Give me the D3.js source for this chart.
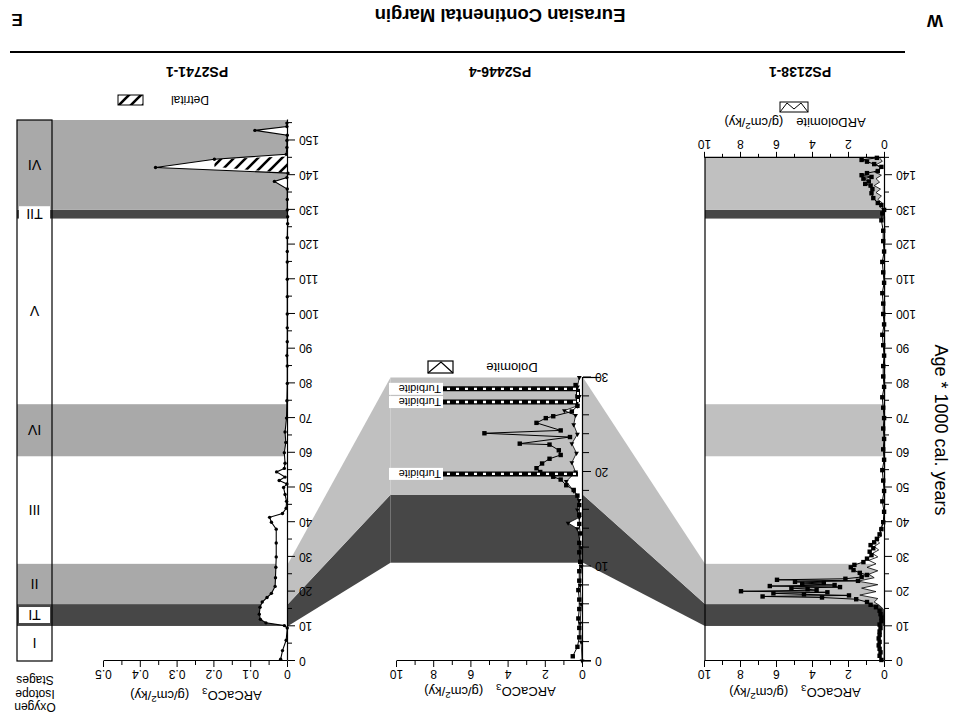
<!DOCTYPE html>
<html><head><meta charset="utf-8">
<script src="https://cdn.jsdelivr.net/npm/d3@7"></script>
<style>body{margin:0;background:#fff}svg{display:block}</style>
</head><body><svg id="c" width="967" height="721"></svg>
<script>
// ---------------- DATA ----------------
const stageNames = ["I","TI","II","III","IV","V","TII","VI"];
const stageStart = [0,10.1,16.4,28,59,74,127.5,130];
const stageEnd   = [10.1,16.4,28,59,74,127.5,130,155.9];
const stageShade = ["none","dark","light","none","light","none","dark","light"];
const p2BandStart = [10.4,17.6];
const p2BandEnd   = [17.6,30];
const p2BandShade = ["dark","light"];

const coreNames = ["PS2138-1","PS2446-4","PS2741-1"];
const ageTicks150 = [0,10,20,30,40,50,60,70,80,90,100,110,120,130,140,150];
const valTicks10 = [0,2,4,6,8,10];
const valTicks05 = [0,0.1,0.2,0.3,0.4,0.5];

// PS2138-1 CaCO3 and dolomite accumulation rates
const p1CarbAge = [0.3,1.5,2.5,3.5,4.5,5.5,6.5,7.5,8.5,9.5,10.5,11.5,12.5,13.5,14.5,15.5,16.2,17,17.8,18.3,18.6,18.9,19.2,19.5,19.8,20.1,20.4,20.7,21,21.3,21.6,21.9,22.2,22.5,22.8,23.1,23.4,23.7,24.2,24.8,25.4,26.2,27,27.7,28.5,29.5,30.5,31.5,32.5,33.4,34.2,35.2,36.5,38,40,43,46,49,52,55,58,61,64,67,70,73,76,79,82,85,88,91,94,97,100,103,106,109,112,115,118,121,124,127,129,130,131.4,132,133.4,134.8,136,137,137.5,138.2,139,139.5,140,140.6,141.2,142.4,143.2,143.9,144.4,145];
const p1CarbVal = [0.2,0.3,0.25,0.3,0.35,0.3,0.35,0.3,0.3,0.25,0.3,0.2,0.2,0.25,0.3,0.5,0.8,1.0,1.6,3.5,6.8,2.0,4.5,6.2,3.2,8.0,3.8,4.3,5.2,2.5,6.4,2.8,4.6,3.4,5.0,1.5,6.0,2.2,1.3,1.0,1.4,1.75,1.9,1.7,1.2,1.0,0.75,0.85,0.65,0.8,0.6,0.45,0.3,0.2,0.1,0.05,0.15,0.05,0.1,0.15,0.05,0.1,0.05,0.1,0.05,0.1,0.15,0.05,0.1,0.1,0.05,0.1,0.15,0.05,0.1,0.1,0.15,0.05,0.1,0.15,0.05,0.1,0.1,0.2,0.15,0.05,0.2,0.4,0.65,0.75,0.7,0.8,1.1,0.9,1.2,0.75,1.3,1.0,0.4,0.2,0.6,1.0,1.3,0.45];
const p1DolAge = [0,5,10,15,16,17,18,19,20,21,22,23,24,25,26,27,28,29,30,31,32,33,34,35,36,38,40,45,60,80,100,120,128,130,131,132,133,134,135,136,137,138,139,140,141,142,143,144,145];
const p1DolVal = [0.05,0.05,0.05,0.1,0.3,0.6,0.4,1.4,0.5,1.3,0.4,1.5,0.6,0.9,0.4,1.0,0.5,0.9,0.4,0.7,0.35,0.6,0.3,0.5,0.2,0.3,0.05,0.02,0.02,0.02,0.02,0.02,0.02,0.1,0.3,0.15,0.4,0.2,0.5,0.25,0.6,0.3,0.5,0.2,0.6,0.2,0.5,0.15,0.3];

// PS2446-4
const p2CarbAge = [0.5,1.5,2.5,3.5,4.5,5.5,6.5,7.5,8.5,9.5,10.5,11.5,12.5,13.5,14.5,15.5,16.5,17.5,18.1,18.6,19.2,19.5,20.0,20.4,20.9,21.4,21.8,22.3,22.9,23.0,23.7,24.1,24.4,25.2,25.7,25.9,26.4,27.0,28.0,29.2];
const p2CarbVal = [0.55,0.3,0.2,0.2,0.25,0.2,0.2,0.25,0.2,0.2,0.15,0.2,0.2,0.15,0.2,0.2,0.2,0.3,0.5,0.9,1.2,1.6,2.3,2.5,2.2,1.8,1.2,1.3,1.8,3.4,0.7,5.3,1.2,2.5,2.0,1.6,0.6,0.3,0.3,0.4];
const p2DolAge = [0,2,4,6,8,10,12,14,14.6,15.2,16,17,18,19,20,21,22,23,24,25,26,26.5,27,28,29,30];
const p2DolVal = [0.05,0.1,0.15,0.1,0.15,0.1,0.1,0.3,0.8,0.2,0.3,0.2,0.5,0.9,0.4,0.6,0.35,0.6,0.3,0.5,0.4,1.0,0.3,0.2,0.3,0.2];
const turbiditeAge = [19.8,27.4,28.8];

// PS2741-1
const p3CarbAge = [0.5,3,6,9.5,10.2,11,12,13.5,15.5,17,18.3,19.5,21.5,24,27,30,34,38,40,41.4,42.5,44,46,48,50,51,52,53,54.5,55.5,57,60,63,66,70,75,80,85,88,92,96,100,105,110,115,118,122,126,128,130,133,136,138.2,139.3,140.6,142.2,144.6,146,148,150,151.5,152.9,154,155];
const p3CarbVal = [0.02,0.015,0.005,0.002,0.01,0.06,0.075,0.078,0.076,0.07,0.057,0.045,0.035,0.034,0.033,0.032,0.032,0.032,0.045,0.05,0.015,0.005,0.004,0.008,0.012,0.003,0.024,0.008,0.031,0.01,0.008,0.01,0.006,0.008,0.004,0.003,0.002,0.002,0.003,0.002,0.002,0.002,0.002,0.002,0.002,0.002,0.002,0.001,0.001,0.002,0.002,0.002,0.037,0.003,0.0,0.36,0.2,0.005,0.003,0.003,0.002,0.09,0.003,0.003];
const p3DetAge = [140.6,142.4,144.6,145.4];
const p3DetVal = [0,0.2,0.2,0];

// ---------------- DRAW ----------------
const W=967,H=721;
const FONT='"Liberation Sans", Arial, Helvetica, sans-serif';
const LIGHT='#c0c0c0', DARK='#474747', LIGHT3='#a9a9a9';
const svg=d3.select('#c');
const defs=svg.append('defs');
const hatch=defs.append('pattern').attr('id','hatch').attr('patternUnits','userSpaceOnUse').attr('width',12).attr('height',12);
hatch.append('rect').attr('width',12).attr('height',12).attr('fill','#fff');
hatch.append('path').attr('d','M-3,3 L3,-3 M0,12 L12,0 M9,15 L15,9').attr('stroke','#000').attr('stroke-width',2.6);

const root=svg.append('g').attr('transform',`rotate(180 ${W/2} ${H/2})`).attr('font-family',FONT);

const age1=d3.scaleLinear().domain([0,145]).range([60,563.15]);
const age3=d3.scaleLinear().domain([0,155.9]).range([60,601]);
const age2=d3.scaleLinear().domain([0,30]).range([60,343.5]);
const v1=d3.scaleLinear().domain([0,10]).range([82,262]);
const v2=d3.scaleLinear().domain([0,10]).range([384,570]);
const v3=d3.scaleLinear().domain([0,0.5]).range([679,863]);

const shadeCol={light:LIGHT,dark:DARK};

stageStart.forEach((s,i)=>{
  if(stageShade[i]==='none'||s>=145) return;
  const e=Math.min(stageEnd[i],145);
  root.append('rect').attr('x',v1(0)).attr('width',v1(10)-v1(0))
    .attr('y',age1(s)).attr('height',age1(e)-age1(s)).attr('fill',shadeCol[stageShade[i]]);
});
stageStart.forEach((s,i)=>{
  if(stageShade[i]==='none') return;
  root.append('rect').attr('x',v3(0)).attr('width',950-v3(0))
    .attr('y',age3(s)).attr('height',age3(stageEnd[i])-age3(s))
    .attr('fill',stageShade[i]==='light'?LIGHT3:DARK);
});
const p2Left=v2(0), p2Right=v2(10.35);
p2BandStart.forEach((s,i)=>{
  root.append('rect').attr('x',p2Left).attr('width',p2Right-p2Left)
    .attr('y',age2(s)).attr('height',age2(p2BandEnd[i])-age2(s)).attr('fill',shadeCol[p2BandShade[i]]);
});
const poly=(pts,fill)=>root.append('polygon').attr('points',pts.map(p=>p.join(',')).join(' ')).attr('fill',fill);
poly([[v1(10),age1(10.1)],[v1(10),age1(16.4)],[p2Left,age2(17.6)],[p2Left,age2(10.4)]],DARK);
poly([[v1(10),age1(16.4)],[v1(10),age1(28)],[p2Left,age2(30)],[p2Left,age2(17.6)]],LIGHT);
poly([[p2Right,age2(10.4)],[p2Right,age2(17.6)],[v3(0),age3(16.4)],[v3(0),age3(10.1)]],DARK);
poly([[p2Right,age2(17.6)],[p2Right,age2(30)],[v3(0),age3(28)],[v3(0),age3(16.4)]],LIGHT);

function styleAxis(g,fs){
  g.selectAll('text').attr('font-family',FONT).attr('font-size',fs).attr('fill','#000');
  g.selectAll('line').attr('stroke','#000').attr('stroke-width',1);
  g.selectAll('path').attr('stroke','#000').attr('stroke-width',1.2);
  g.attr('font-family',FONT);
}
function ageAxis(scale,x,majors,minors,majSize,minSize){
  const g=root.append('g').attr('transform',`translate(${x},0)`);
  g.call(d3.axisLeft(scale).tickValues(majors).tickSize(majSize).tickSizeOuter(0).tickPadding(4).tickFormat(d3.format('d')));
  styleAxis(g,12);
  const m=root.append('g').attr('transform',`translate(${x},0)`);
  m.call(d3.axisLeft(scale).tickValues(minors).tickSize(minSize).tickSizeOuter(0).tickFormat(''));
  m.select('.domain').remove(); styleAxis(m,12);
}
function valAxis(scale,y,majors,minors,fmt,top){
  const ax=top?d3.axisTop(scale):d3.axisBottom(scale);
  const g=root.append('g').attr('transform',`translate(0,${y})`);
  g.call(ax.tickValues(majors).tickSize(6).tickSizeOuter(0).tickPadding(3).tickFormat(fmt));
  styleAxis(g,12);
  const ax2=top?d3.axisTop(scale):d3.axisBottom(scale);
  const m=root.append('g').attr('transform',`translate(0,${y})`);
  m.call(ax2.tickValues(minors).tickSize(4).tickSizeOuter(0).tickFormat(''));
  m.select('.domain').remove(); styleAxis(m,12);
}
function arLabel(x,y,name,fs){
  const t=root.append('text').attr('x',x).attr('y',y).attr('text-anchor','middle').attr('font-size',fs).attr('font-family',FONT);
  t.append('tspan').text('AR'+name);
  if(name==='CaCO'){ t.append('tspan').attr('dy',3).attr('font-size',fs*0.75).text('3'); t.append('tspan').attr('dy',-3).text('\u2003(g/cm'); }
  else t.append('tspan').text('\u2003(g/cm');
  t.append('tspan').attr('dy',-5).attr('font-size',fs*0.75).text('2');
  t.append('tspan').attr('dy',5).text('/ky)');
}
function vArea(ages,vals,vs,as){
  return d3.area().y((d,i)=>as(ages[i])).x0(vs(0)).x1((d,i)=>vs(vals[i]))(ages);
}
function vLine(ages,vals,vs,as){
  return d3.line().y((d,i)=>as(ages[i])).x((d,i)=>vs(vals[i]))(ages);
}

// ---------- PANEL 1 ----------
root.append('path').attr('d',vArea(p1DolAge,p1DolVal,v1,age1)).attr('fill','#fff');
root.append('path').attr('d',vLine(p1DolAge,p1DolVal,v1,age1)).attr('fill','none').attr('stroke','#000').attr('stroke-width',0.8);
root.append('path').attr('d',vLine(p1CarbAge,p1CarbVal,v1,age1)).attr('fill','none').attr('stroke','#000').attr('stroke-width',1);
root.append('g').selectAll('rect').data(p1CarbAge).join('rect')
  .attr('x',(d,i)=>v1(p1CarbVal[i])-2.2).attr('y',d=>age1(d)-2.2).attr('width',4.4).attr('height',4.4).attr('fill','#000');
root.append('line').attr('x1',v1(10)).attr('x2',v1(10)).attr('y1',age1(0)).attr('y2',age1(145)).attr('stroke','#000').attr('stroke-width',1.2);
ageAxis(age1,v1(0),ageTicks150.filter(d=>d<=140),d3.range(5,146,10),7,4);
valAxis(v1,age1(0),valTicks10,[1,3,5,7,9],d3.format('d'),true);
valAxis(v1,age1(145),valTicks10,[1,3,5,7,9],d3.format('d'),false);
arLabel(172,33,'CaCO',13);
arLabel(172,603,'Dolomite',13);
root.append('rect').attr('x',159).attr('y',609).attr('width',28).attr('height',10).attr('fill','#fff').attr('stroke','#000');
root.append('path').attr('d','M159,609 L166,618 L173,612 L180,618 L187,609').attr('fill','none').attr('stroke','#000');

// ---------- PANEL 2 ----------
root.append('path').attr('d',vArea(p2DolAge,p2DolVal,v2,age2)).attr('fill','#fff');
root.append('path').attr('d',vLine(p2DolAge,p2DolVal,v2,age2)).attr('fill','none').attr('stroke','#000').attr('stroke-width',0.8);
root.append('g').selectAll('path').data(p2DolAge).join('path')
  .attr('transform',(d,i)=>`translate(${v2(p2DolVal[i])},${age2(d)})`).attr('d',d3.symbol(d3.symbolTriangle,10)).attr('fill','#000');
root.append('path').attr('d',vLine(p2CarbAge,p2CarbVal,v2,age2)).attr('fill','none').attr('stroke','#000').attr('stroke-width',1);
root.append('g').selectAll('rect').data(p2CarbAge).join('rect')
  .attr('x',(d,i)=>v2(p2CarbVal[i])-2.2).attr('y',d=>age2(d)-2.2).attr('width',4.4).attr('height',4.4).attr('fill','#000');
const tx0=v2(0.27), tx1=524;
turbiditeAge.forEach(a=>{
  root.append('line').attr('x1',tx0).attr('x2',tx1).attr('y1',age2(a)).attr('y2',age2(a)).attr('stroke','#000').attr('stroke-width',5);
  root.append('line').attr('x1',tx0+2).attr('x2',tx1).attr('y1',age2(a)).attr('y2',age2(a)).attr('stroke','#fff').attr('stroke-width',2.4).attr('stroke-dasharray','3,6');
  root.append('rect').attr('x',tx1).attr('y',age2(a)-6).attr('width',54).attr('height',12).attr('fill','#fff');
  root.append('text').attr('x',tx1+2).attr('y',age2(a)+4).attr('font-size',11).text('Turbidite');
});
root.append('line').attr('x1',tx0).attr('x2',tx0).attr('y1',age2(27.4)).attr('y2',age2(28.8)).attr('stroke','#000').attr('stroke-width',4);
root.append('line').attr('x1',tx0).attr('x2',tx0).attr('y1',age2(27.4)).attr('y2',age2(28.8)).attr('stroke','#fff').attr('stroke-width',2).attr('stroke-dasharray','3,4');
ageAxis(age2,v2(0),[0,10,20,30],d3.range(2,30,2).filter(d=>d%10),8,6);
valAxis(v2,age2(0),valTicks10,[1,3,5,7,9],d3.format('d'),true);
root.append('line').attr('x1',v2(0)-8).attr('x2',v2(0)).attr('y1',age2(0)).attr('y2',age2(0)).attr('stroke','#000').attr('stroke-width',1.2);
root.append('line').attr('x1',v2(0)-17).attr('x2',v2(0)).attr('y1',age2(30)).attr('y2',age2(30)).attr('stroke','#000').attr('stroke-width',1.2);
arLabel(477,34,'CaCO',13);
root.append('text').attr('x',455).attr('y',358).attr('text-anchor','middle').attr('font-size',13).text('Dolomite');
root.append('rect').attr('x',514).attr('y',348).attr('width',25).attr('height',12).attr('fill','#fff').attr('stroke','#000').attr('stroke-width',1.2);
root.append('path').attr('d','M514,348 L526,359 L539,348').attr('fill','none').attr('stroke','#000').attr('stroke-width',1.2);

// ---------- PANEL 3 ----------
root.append('path').attr('d',vArea(p3CarbAge,p3CarbVal,v3,age3)).attr('fill','#fff');
root.append('path').attr('d',d3.area().y((d,i)=>age3(p3DetAge[i])).x0(v3(0)).x1((d,i)=>v3(p3DetVal[i]))(p3DetAge)).attr('fill','url(#hatch)');
root.append('path').attr('d',vLine(p3CarbAge,p3CarbVal,v3,age3)).attr('fill','none').attr('stroke','#000').attr('stroke-width',1.1);
root.append('g').selectAll('circle').data(p3CarbAge).join('circle')
  .attr('cx',(d,i)=>v3(p3CarbVal[i])).attr('cy',d=>age3(d)).attr('r',1.7).attr('fill','#000');
ageAxis(age3,v3(0),ageTicks150,d3.range(5,156,10),7,4);
valAxis(v3,age3(0),valTicks05,[0.05,0.15,0.25,0.35,0.45],d=>d===0?'0':d.toFixed(1),true);
arLabel(771,30,'CaCO',13);
root.append('rect').attr('x',915).attr('y',age3(0)).attr('width',35).attr('height',age3(155.9)-age3(0)).attr('fill','none').attr('stroke','#000').attr('stroke-width',1.2);
stageNames.forEach((n,i)=>{
  const yc=(age3(stageStart[i])+age3(stageEnd[i]))/2;
  if(n==='TI'||n==='TII'){
    root.append('rect').attr('x',917).attr('y',yc-8).attr('width',31).attr('height',16).attr('fill','#fff');
  }
  root.append('text').attr('x',932.5).attr('y',yc+5).attr('text-anchor','middle').attr('font-size',14).text(n);
});
root.append('text').attr('x',777).attr('y',625).attr('text-anchor','middle').attr('font-size',12).text('Detrital');
root.append('rect').attr('x',824).attr('y',616).attr('width',25).attr('height',10).attr('fill','url(#hatch)').attr('stroke','#000');
['Oxygen','Isotope','Stages'].forEach((t,i)=>root.append('text').attr('x',932).attr('y',18+i*13.5).attr('text-anchor','middle').attr('font-size',12).text(t));

// ---------- titles ----------
root.append('text').attr('transform','translate(32,291) rotate(-90)').attr('text-anchor','middle').attr('font-size',18).text('Age * 1000 cal. years');
root.append('line').attr('x1',62).attr('x2',957).attr('y1',669).attr('y2',669).attr('stroke','#000').attr('stroke-width',2);
[167,467,770].forEach((x,i)=>root.append('text').attr('x',x).attr('y',654).attr('text-anchor','middle').attr('font-size',14).attr('font-weight','bold').text(coreNames[i]));
root.append('text').attr('x',467).attr('y',712).attr('text-anchor','middle').attr('font-size',18.5).attr('font-weight','bold').text('Eurasian Continental Margin');
root.append('text').attr('x',32).attr('y',706).attr('text-anchor','middle').attr('font-size',17).attr('font-weight','bold').text('W');
root.append('text').attr('x',950).attr('y',707).attr('text-anchor','middle').attr('font-size',17).attr('font-weight','bold').text('E');
</script></body></html>
